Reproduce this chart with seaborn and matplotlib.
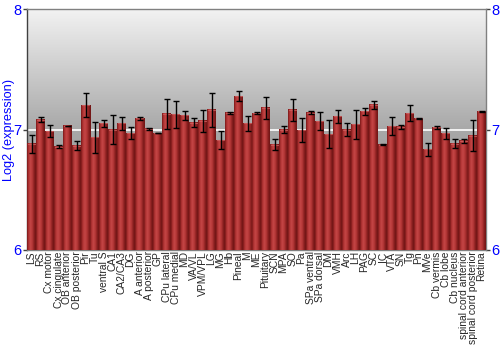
import numpy as np
import pandas as pd
import matplotlib
matplotlib.use("Agg")
import matplotlib.pyplot as plt
import seaborn as sns
from matplotlib.colors import LinearSegmentedColormap

regions = ["LS", "RS", "Cx motor", "Cx cingulate", "OB anterior", "OB posterior", "Pir", "Tu",
           "ventral S", "CA1", "CA2/CA3", "DG", "A anterior", "A posterior", "GP", "CPu lateral",
           "CPu medial", "MD", "VA/VL", "VPM/VPL", "LG", "MG", "Hb", "Pineal", "M", "ME",
           "Pituitary", "SCN", "MPA", "SO", "Pa", "SPa ventral", "SPa dorsal", "DM", "VMH", "Arc",
           "LH", "PAG", "SC", "IC", "VTA", "SN", "Tg", "Pn", "MVe", "Cb vermis", "Cb lobe",
           "Cb nucleus", "spinal cord anterior", "spinal cord posterior", "Retina"]
expression = [6.883, 7.083, 6.986, 6.858, 7.030, 6.867, 7.203, 6.936,
              7.053, 7.000, 7.050, 6.970, 7.092, 7.006, 6.970, 7.130,
              7.125, 7.117, 7.058, 7.072, 7.164, 6.911, 7.139, 7.278, 7.050, 7.136,
              7.181, 6.875, 7.000, 7.164, 6.994, 7.139, 7.067, 6.961, 7.108, 7.000,
              7.042, 7.150, 7.206, 6.875, 7.028, 7.022, 7.136, 7.092, 6.836, 7.017, 6.967,
              6.883, 6.906, 6.950, 7.150]
error = [0.075, 0.017, 0.050, 0.015, 0.003, 0.040, 0.097, 0.130,
         0.030, 0.120, 0.050, 0.050, 0.015, 0.006, 0.002, 0.125,
         0.110, 0.038, 0.040, 0.094, 0.140, 0.075, 0.008, 0.039, 0.061, 0.008,
         0.092, 0.042, 0.028, 0.092, 0.100, 0.011, 0.075, 0.117, 0.053, 0.050,
         0.117, 0.028, 0.032, 0.002, 0.074, 0.017, 0.065, 0.003, 0.053, 0.014, 0.043,
         0.036, 0.017, 0.125, 0.002]

df = pd.DataFrame({"region": regions, "expr": expression, "err": error})

sns.set_style("white")
plt.rcParams['font.family'] = ['Liberation Sans', 'DejaVu Sans']

fig = plt.figure(figsize=(5, 3.5), dpi=100)
ax = fig.add_axes([0.054, 0.286, 0.918, 0.688])

ymin, ymax = 6, 8
sns.barplot(data=df, x="region", y="expr", ax=ax, color="#b03030", width=1.0,
            errorbar=None, bottom=0, saturation=1, linewidth=0, zorder=2)
ax.set_ylim(ymin, ymax)
ax.set_xlim(-0.5, len(regions) - 0.5)

# background gradient
bg_cmap = LinearSegmentedColormap.from_list("bg", ["#8e8e8e", "#a8a8a8", "#f2f2f2"])
bg = np.linspace(0, 1, 256).reshape(-1, 1)
ax.imshow(bg, extent=[-0.5, len(regions) - 0.5, ymin, ymax], origin="lower",
          aspect="auto", cmap=bg_cmap, zorder=0)

# bar gradient
bar_cmap = LinearSegmentedColormap.from_list(
    "bar", ["#7a1818", "#b43636", "#c44646", "#b43636", "#8a2020", "#6e1414"])
grad = np.linspace(0, 1, 64).reshape(1, -1)
for p in ax.patches:
    x0 = p.get_x()
    w = p.get_width()
    h = p.get_height()
    y0 = p.get_y()
    ax.imshow(grad, extent=[x0, x0 + w, y0, y0 + h], aspect="auto",
              cmap=bar_cmap, zorder=3)
    ax.plot([x0 + 0.08, x0 + w - 0.08], [y0 + h, y0 + h], color="#d06060",
            lw=0.8, zorder=4, alpha=0.8)

xs = [p.get_x() + p.get_width() / 2 for p in ax.patches]
ax.errorbar(xs, df["expr"], yerr=df["err"], fmt="none", ecolor="black",
            elinewidth=1.0, capsize=2, capthick=1.0, zorder=5)

ax.axhline(7, color="white", lw=1.2, zorder=1)
ax.set_ylim(ymin, ymax)
ax.set_xlim(-0.5, len(regions) - 0.5)

ax.set_yticks([6, 7, 8])
ax.set_yticklabels(["6", "7", "8"])
ax.tick_params(axis="y", which="both", left=True, right=True, labelleft=True,
               labelright=True, length=3, width=1, color="#404040",
               labelcolor="#0000ff", labelsize=10.5, pad=1)
ax.tick_params(axis="x", bottom=False, length=0, pad=1)
ax.set_xticks(range(len(regions)))
ax.set_xticklabels(regions, rotation=90, fontsize=7.4)
ax.set_xlabel("")
ax.set_ylabel("Log2 (expression)", color="#0000ff", fontsize=9.2)
ax.yaxis.set_label_coords(-0.027, 0.5)

for s in ["top", "right", "left", "bottom"]:
    ax.spines[s].set_visible(True)
ax.spines["left"].set_color("#404040")
ax.spines["top"].set_color("#808080")
ax.spines["right"].set_color("#808080")
ax.spines["bottom"].set_color("#808080")
for s in ax.spines.values():
    s.set_linewidth(1)

fig.savefig("out.png", dpi=100)
